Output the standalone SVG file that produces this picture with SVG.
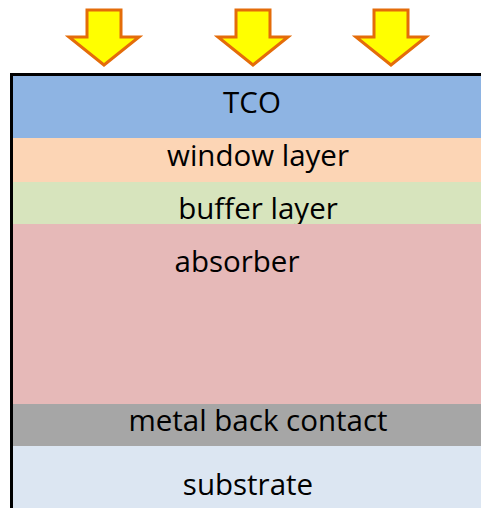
<svg xmlns="http://www.w3.org/2000/svg" width="481" height="508" viewBox="0 0 481 508">
<style>
.lbl{font-family:"Open Sans","Liberation Sans",sans-serif;font-size:29.5px;fill:#000;text-anchor:middle}
.arrow{fill:#FFFF00;stroke:#E46C0A;stroke-width:3;stroke-linejoin:miter}
</style>
<defs>
<path id="arr" d="M-17,0 H17 V27 H35 L0,55 L-35,27 H-17 Z"/>
</defs>
<g id="layers">
<g id="tco"><rect x="11" y="74" width="480" height="64" fill="#8EB4E3"/><text class="lbl" x="252" y="113">TCO</text></g>
<g id="window"><rect x="11" y="138" width="480" height="44" fill="#FCD5B5"/><text class="lbl" x="258" y="166">window layer</text></g>
<g id="buffer"><rect x="11" y="182" width="480" height="42" fill="#D7E4BD"/><text class="lbl" x="258" y="219">buffer layer</text></g>
<g id="absorber"><rect x="11" y="224" width="480" height="180" fill="#E6B9B8"/><text class="lbl" x="237" y="272">absorber</text></g>
<g id="metal"><rect x="11" y="404" width="480" height="42" fill="#A6A6A6"/><text class="lbl" x="258" y="431">metal back contact</text></g>
<g id="substrate"><rect x="11" y="446" width="480" height="70" fill="#DCE6F2"/><text class="lbl" x="248" y="495">substrate</text></g>
<path d="M11.5,510 V74.5 H490" fill="none" stroke="#000" stroke-width="3"/>
</g>
<g id="arrows">
<use href="#arr" class="arrow" x="104" y="10"/>
<use href="#arr" class="arrow" x="253" y="10"/>
<use href="#arr" class="arrow" x="391" y="10"/>
</g>
</svg>
